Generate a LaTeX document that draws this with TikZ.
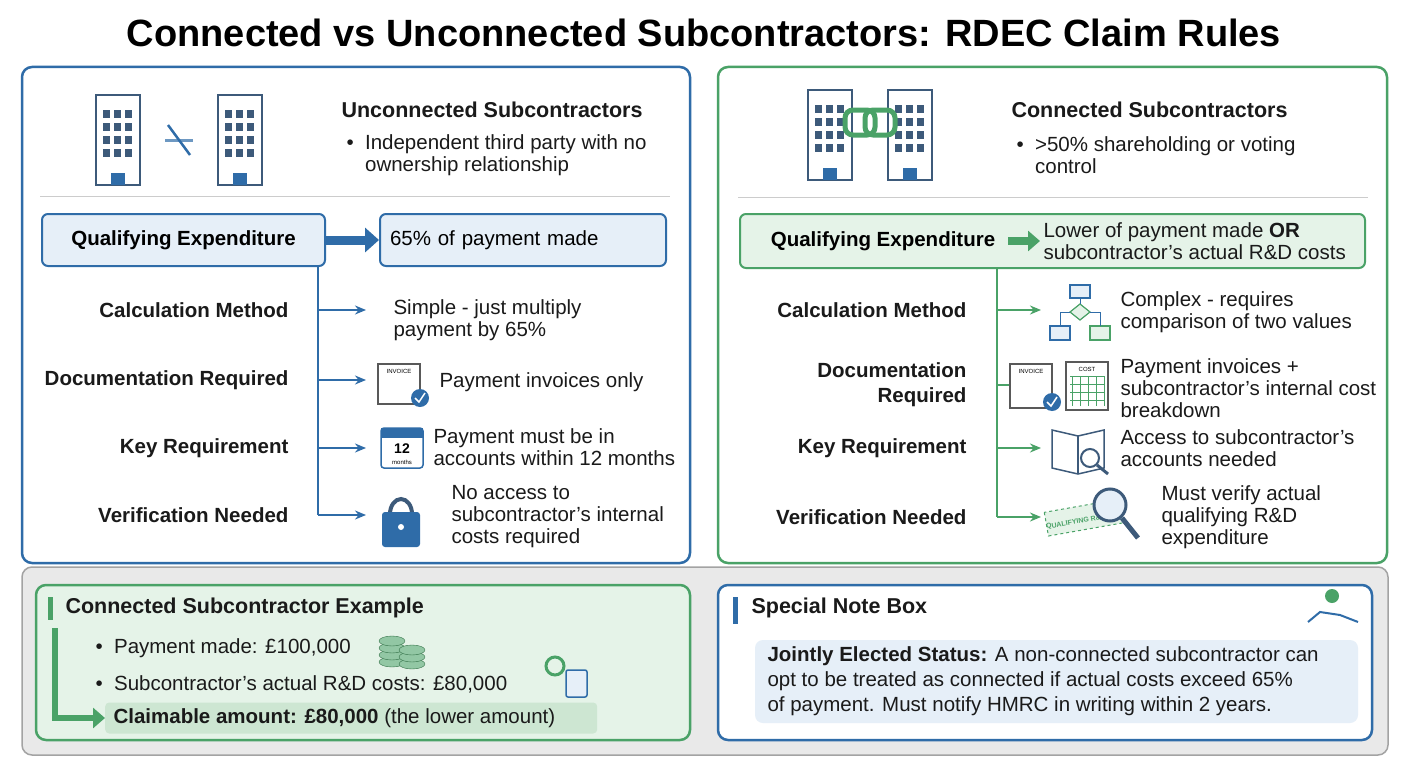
\documentclass[tikz,border=0pt]{standalone}
\usepackage{fontspec}
\setmainfont{Liberation Sans}
\usetikzlibrary{positioning,arrows.meta,calc}
\definecolor{ublue}{HTML}{2F6CA8}
\definecolor{lblue}{HTML}{E6EFF8}
\definecolor{cgreen}{HTML}{4AA267}
\definecolor{lgreen}{HTML}{E5F3E8}
\definecolor{hgreen}{HTML}{CDE6D2}
\definecolor{bgray}{HTML}{E9E9E9}
\definecolor{txt}{HTML}{1A1A1A}
\definecolor{bldgc}{HTML}{3D5A7A}
\tikzset{
  panel/.style={draw, rounded corners=10pt, line width=2.5pt},
  lab/.style={anchor=east, font=\fontsize{20.5}{25}\selectfont\bfseries, text=txt, align=right},
  body/.style={anchor=west, font=\fontsize{20.5}{22}\selectfont, text=txt, align=left},
  head/.style={anchor=west, font=\fontsize{21.5}{25}\selectfont\bfseries, text=txt},
  branch/.style={-{Stealth[length=11pt,width=9pt]}, line width=1.8pt},
  building/.pic={
    \fill[white] (-22,-45) rectangle (22,45);
    \draw[bldgc, line width=2pt] (-22,-45) rectangle (22,45);
    \foreach \i in {0,1,2} \foreach \j in {0,1,2,3}
      \fill[bldgc] (-15+\i*11,-30+\j*13) rectangle ++(7,8);
    \fill[ublue] (-7,33) rectangle (7,45);
  },
}
\begin{document}
\begin{tikzpicture}[x=1pt,y=-1pt]
\useasboundingbox (0,0) rectangle (1408,768);
\fill[white] (0,0) rectangle (1408,768);
% title
\node[font=\fontsize{38}{42}\selectfont\bfseries] (title) at (704,33) {Connected vs Unconnected Subcontractors: RDEC Claim Rules};

% panels
\draw[panel, ublue] (22,67) rectangle (690,563);
\draw[panel, cgreen] (718,67) rectangle (1387,563);
\draw[panel, bgray!70!black, fill=bgray, line width=1.5pt] (22,567) rectangle (1388,755);
\draw[panel, cgreen, fill=lgreen] (36,585) rectangle (690,740);
\draw[panel, ublue, fill=white] (718,585) rectangle (1372,740);

% left header
\pic at (118,140) {building};
\pic at (240,140) {building};
\draw[ublue!70, line width=3pt] (165,140) -- (193,140);
\draw[ublue, line width=2.5pt] (168,125) -- (190,155);
\node[head] (uhead) at (338,110) {Unconnected Subcontractors};
\node[body] (ubul) at (343,155) {\textbullet\ \ Independent third party with no\\\phantom{\textbullet\ \ }ownership relationship};
\draw[gray!40, line width=1pt] (40,196) -- (670,196);

% left qualifying expenditure
\node[draw=ublue, fill=lblue, line width=2pt, rounded corners=6pt, minimum width=283pt, minimum height=52pt,
  font=\fontsize{20.5}{24}\selectfont\bfseries] (uqe) at (183.5,240) {Qualifying Expenditure};
\node[draw=ublue, fill=lblue, line width=2pt, rounded corners=6pt, minimum width=286pt, minimum height=52pt,
  font=\fontsize{20.5}{22}\selectfont, text width=266pt] (uqv) at (523,240) {65\% of payment made};
\draw[ublue, line width=9pt, -{Triangle[length=14pt,width=24pt]}] (uqe.east) -- (uqv.west);

\coordinate (utop) at (318,266);
\foreach \y/\n/\t in {310/uc/Calculation Method, 380/ud/Documentation Required, 448/uk/Key Requirement, 515/uv/Verification Needed}{
  \node[lab] (\n) at (292,\y) {\t};
  \coordinate (\n a) at (318,\y);
  \draw[ublue, branch] (\n a) -- ++(48,0);
}
\draw[ublue, line width=1.8pt] (utop) -- (uva);
\node[body] (uct) at (390,320) {Simple - just multiply\\payment by 65\%};
\node[body] (udt) at (436,382) {Payment invoices only};
\node[body] (ukt) at (430,447) {Payment must be in\\accounts within 12 months};
\node[body] (uvt) at (448,517) {No access to\\subcontractor's internal\\costs required};
% icons
\draw[gray!70!black, fill=white, line width=1.2pt] (378,364) rectangle (420,404);
\node[font=\fontsize{6}{7}\selectfont] (inv1) at (399,371) {INVOICE};
\fill[ublue] (420,398) circle (9pt);
\draw[white, line width=1.5pt] (415,398) -- (419,402) -- (425,393);
\draw[ublue, line width=1.5pt, rounded corners=3pt] (381,428) rectangle (423,468);
\fill[ublue] (381,428) rectangle (423,438);
\node[font=\fontsize{14}{14}\selectfont\bfseries] (cal1) at (402,449) {12};
\node[font=\fontsize{6}{6}\selectfont] (cal2) at (402,462) {months};
\draw[bldgc, line width=4pt] (390,514) arc (180:360:11 and 15);
\fill[ublue, rounded corners=3pt] (382,512) rectangle (420,547);
\fill[white] (401,527) circle (3pt);

% right header
\pic at (830,135) {building};
\pic at (910,135) {building};
\draw[cgreen, line width=5pt, rounded corners=8pt] (845,110) rectangle (875,135);
\draw[cgreen, line width=5pt, rounded corners=8pt] (865,110) rectangle (895,135);
\node[head] (chead) at (1008,110) {Connected Subcontractors};
\node[body] (cbul) at (1013,155) {\textbullet\ \ >50\% shareholding or voting\\\phantom{\textbullet\ \ }control};
\draw[gray!40, line width=1pt] (738,197) -- (1368,197);

\node[draw=cgreen, fill=lgreen, line width=2pt, rounded corners=6pt, minimum width=625pt, minimum height=54pt] (cqe) at (1052.5,241) {};
\node[font=\fontsize{20.5}{24}\selectfont\bfseries] (cqel) at (883,241) {Qualifying Expenditure};
\node[body] (cqv) at (1040,241) {Lower of payment made \textbf{OR}\\subcontractor's actual R\&D costs};
\draw[cgreen, line width=8pt, -{Triangle[length=12pt,width=20pt]}] (1008,241) -- (1040,241);

\coordinate (ctop) at (997,268);
\foreach \y/\n/\t in {310/cc/Calculation Method, 385/cd/Documentation\\Required, 448/ck/Key Requirement, 517/cv/Verification Needed}{
  \node[lab] (\n) at (970,\y) {\t};
  \coordinate (\n a) at (997,\y);
  \draw[cgreen, branch] (\n a) -- ++(44,0);
}
\draw[cgreen, line width=1.8pt] (ctop) -- (cva);
\node[body] (cct) at (1117,312) {Complex - requires\\comparison of two values};
\node[body] (cdt) at (1117,388) {Payment invoices +\\subcontractor's internal cost\\breakdown};
\node[body] (ckt) at (1117,448) {Access to subcontractor's\\accounts needed};
\node[body] (cvt) at (1158,517) {Must verify actual\\qualifying R\&D\\expenditure};
% icons
\draw[ublue, fill=lblue, line width=1.2pt] (1070,285) rectangle (1090,298);
\draw[cgreen, fill=lgreen, line width=1.2pt] (1080,304) -- (1090,312) -- (1080,320) -- (1070,312) -- cycle;
\draw[ublue, fill=lblue, line width=1.2pt] (1050,326) rectangle (1070,340);
\draw[cgreen, fill=lgreen, line width=1.2pt] (1090,326) rectangle (1110,340);
\draw[ublue, line width=1pt] (1080,298) -- (1080,304) (1070,312) -| (1060,326) (1090,312) -| (1100,326);
\draw[gray!70!black, fill=white, line width=1.2pt] (1010,364) rectangle (1052,408);
\node[font=\fontsize{6}{7}\selectfont] (inv2) at (1031,371) {INVOICE};
\fill[ublue] (1052,402) circle (9pt);
\draw[white, line width=1.5pt] (1047,402) -- (1051,406) -- (1057,397);
\draw[gray!70!black, fill=white, line width=1.2pt] (1066,362) rectangle (1108,410);
\node[font=\fontsize{6}{7}\selectfont] (sheet) at (1087,369) {COST};
\draw[cgreen, line width=1pt] (1070,376) grid[step=8pt] (1104,406);
\draw[bldgc, fill=white, line width=1.5pt] (1052,430) -- (1078,436) -- (1104,430) -- (1104,468) -- (1078,474) -- (1052,468) -- cycle;
\draw[bldgc, line width=1.2pt] (1078,436) -- (1078,474);
\draw[bldgc, line width=2pt] (1090,458) circle (9pt);
\draw[bldgc, line width=3pt] (1097,465) -- (1108,474);
\draw[cgreen, dashed, fill=lgreen, line width=1pt, rotate around={10:(1070,520)}] (1046,508) rectangle (1122,532);
\node[cgreen, font=\fontsize{7}{8}\selectfont\bfseries, rotate=10] (stamp) at (1076,522) {QUALIFYING R\&D};
\draw[bldgc, fill=lblue, line width=3pt] (1110,505) circle (16pt);
\draw[bldgc, line width=5pt] (1122,518) -- (1138,538);

% bottom left
\fill[cgreen] (48,597) rectangle (53,620);
\node[head] (exhead) at (62,608) {Connected Subcontractor Example};
\node[body] (ex1) at (92,648) {\textbullet\ \ Payment made: £100,000};
\node[body] (ex2) at (92,684) {\textbullet\ \ Subcontractor's actual R\&D costs: £80,000};
\node[fill=hgreen, rounded corners=4pt, minimum width=492pt, minimum height=31pt, anchor=west] (claim) at (105,718) {};
\node[body] (claimt) at (110,718) {\textbf{Claimable amount: £80,000} (the lower amount)};
\coordinate (lstart) at (55,628);
\draw[cgreen, line width=6pt, -{Triangle[length=12pt,width=20pt]}] (lstart) |- (claim.west);
\foreach \k in {0,1,2,3} \draw[cgreen!70!black, fill=cgreen!60] (392,662-\k*7) ellipse (13pt and 5pt);
\foreach \k in {0,1,2} \draw[cgreen!70!black, fill=cgreen!60] (412,664-\k*7) ellipse (13pt and 5pt);
\draw[cgreen, line width=3pt] (555,666) circle (9pt);
\draw[ublue, fill=lblue, line width=1.5pt, rounded corners=2pt] (566,670) rectangle (587,697);

% bottom right
\fill[ublue] (733,597) rectangle (738,624);
\node[head] (nhead) at (748,608) {Special Note Box};
\node[fill=lblue, rounded corners=8pt, minimum width=603pt, minimum height=83pt] (nbox) at (1056.5,681.5) {};
\node[body, font=\fontsize{20.5}{25}\selectfont] (ntext) at (764,681) {\textbf{Jointly Elected Status:} A non-connected subcontractor can\\opt to be treated as connected if actual costs exceed 65\%\\of payment. Must notify HMRC in writing within 2 years.};
\draw[ublue, line width=2pt] (1308,622) -- (1320,612) -- (1340,615) -- (1358,622);
\fill[cgreen] (1332,596) circle (7pt);
\end{tikzpicture}
\end{document}
